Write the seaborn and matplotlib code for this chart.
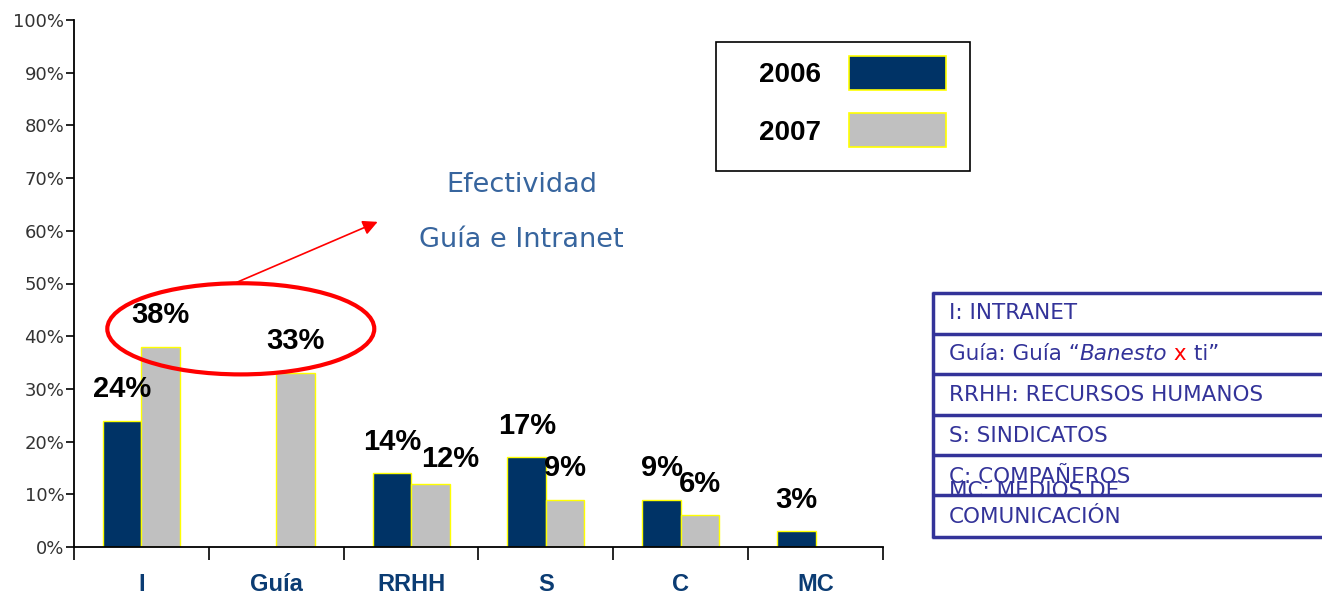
import numpy as np
import pandas as pd
import matplotlib.pyplot as plt
import seaborn as sns
from matplotlib.patches import Patch, Ellipse, Rectangle
from matplotlib.lines import Line2D
from matplotlib.ticker import FuncFormatter, FixedLocator

# data
categories = ["I", "Guía", "RRHH", "S", "C", "MC"]
years = ["2006", "2007"]
values_2006 = [24, None, 14, 17, 9, 3]
values_2007 = [38, 33, 12, 9, 6, None]
definitions = [
    "I: INTRANET",
    None,  # Guía line is drawn in pieces (italic / red x)
    "RRHH: RECURSOS HUMANOS",
    "S: SINDICATOS",
    "C: COMPAÑEROS",
]

colors = {"2006": "#003366", "2007": "#C0C0C0"}
navy = "#333399"

rows = []
for cat, v6, v7 in zip(categories, values_2006, values_2007):
    rows.append({"cat": cat, "year": "2006", "val": v6})
    rows.append({"cat": cat, "year": "2007", "val": v7})
df = pd.DataFrame(rows).dropna()

sns.set_style("white")
plt.rcParams["font.family"] = ["DejaVu Sans"]

fig = plt.figure(figsize=(13.22, 5.95), dpi=100)
ax = fig.add_axes([74 / 1322, 48 / 595, (883 - 74) / 1322, (547 - 20) / 595])

sns.barplot(data=df, x="cat", y="val", hue="year", order=categories,
            hue_order=years, palette=colors, width=0.57, edgecolor="#FFFF00",
            linewidth=1.0, legend=False, saturation=1, ax=ax)

ax.set_xlim(-0.5, 5.5)
ax.set_ylim(0, 100)
ax.set_yticks(np.arange(0, 101, 10))
ax.yaxis.set_major_formatter(FuncFormatter(lambda v, p: f"{v:.0f}%"))
ax.tick_params(axis="y", left=True, length=6, width=1.2, pad=1,
               labelsize=13, labelcolor="#333333", color="black")
ax.set_xticks(range(len(categories)))
ax.set_xticklabels(categories, fontfamily="Liberation Sans", fontweight="bold",
                   fontsize=17, color="#0B3C73")
ax.tick_params(axis="x", which="major", length=0, pad=19)
ax.xaxis.set_minor_locator(FixedLocator(np.arange(-0.5, 6, 1)))
ax.tick_params(axis="x", which="minor", bottom=True, length=9, width=1.2,
               color="black")
ax.set_xlabel("")
ax.set_ylabel("")
for side in ["top", "right"]:
    ax.spines[side].set_visible(False)
for side in ["left", "bottom"]:
    ax.spines[side].set_color("black")
    ax.spines[side].set_linewidth(1.3)

# value labels above bars
for bar in ax.patches:
    h = bar.get_height()
    if not np.isfinite(h) or h <= 0:
        continue
    xc = bar.get_x() + bar.get_width() / 2
    dy = 6
    dx = 0
    if abs(h - 12) < 0.01:
        dx, dy = 0.15, 4.7
    ax.text(xc + dx, h + dy, f"{h:.0f}%", ha="center", va="center",
            fontfamily="Liberation Sans", fontweight="bold", fontsize=21,
            color="black", clip_on=False)

# highlight ellipse and arrow
ax.add_patch(Ellipse((0.737, 41.4), 1.98, 17.3, fill=False, edgecolor="#FF0000",
                     linewidth=3, clip_on=False, zorder=5))
ax.annotate("", xy=(1.752, 61.7), xytext=(0.678, 49.9),
            arrowprops=dict(arrowstyle="-|>", color="#FF0000", lw=1.2,
                            mutation_scale=22, shrinkA=0, shrinkB=0),
            annotation_clip=False)

fig.text(522 / 1322, 1 - 185 / 595, "Efectividad", ha="center", va="center",
         fontsize=19.5, color="#37659E")
fig.text(521 / 1322, 1 - 240 / 595, "Guía e Intranet", ha="center", va="center",
         fontsize=19.5, color="#37659E")

# legend box
handles = [Patch(facecolor=colors[y], edgecolor="#FFFF00", linewidth=1.2) for y in years]
fig.add_artist(Rectangle((716 / 1322, 1 - 171 / 595), (970 - 716) / 1322,
                         (171 - 42) / 595, transform=fig.transFigure, fill=False,
                         edgecolor="black", linewidth=1.2))
fig.legend(handles, years, loc="upper right",
           bbox_to_anchor=(946 / 1322, 1 - 56 / 595), frameon=False,
           markerfirst=False, handlelength=3.5, handleheight=1.5,
           handletextpad=1.0, labelspacing=0.85, borderpad=0, borderaxespad=0,
           labelcolor="black",
           prop={"family": "Liberation Sans", "weight": "bold", "size": 20})

# definitions table on the right
row_lines = [293, 334, 374, 415, 455, 495, 537]
for y in row_lines:
    fig.add_artist(Line2D([932 / 1322, 1.0], [1 - y / 595, 1 - y / 595],
                          transform=fig.transFigure, color=navy, linewidth=2.5,
                          solid_capstyle="butt"))
fig.add_artist(Line2D([933 / 1322, 933 / 1322], [1 - 292 / 595, 1 - 538 / 595],
                      transform=fig.transFigure, color=navy, linewidth=2.5,
                      solid_capstyle="butt"))

fs_def = 15.5
text_y = [313, 354, 395, 436, 477]
tx = 949 / 1322
for txt, y in zip(definitions, text_y):
    if txt is None:
        continue
    fig.text(tx, 1 - y / 595, txt, ha="left", va="center", fontsize=fs_def,
             color=navy)
fig.text(tx, 1 - 491 / 595, "MC: MEDIOS DE", ha="left", va="center",
         fontsize=fs_def, color=navy)
fig.text(tx, 1 - 517 / 595, "COMUNICACIÓN", ha="left", va="center",
         fontsize=fs_def, color=navy)

# Guía line with italic and red x
renderer = fig.canvas.get_renderer()
pieces = [("Guía: Guía “", "normal", navy), ("Banesto", "italic", navy),
          (" x", "normal", "#FF0000"), (" ti”", "normal", navy)]
xpix = 949
for s, style, col in pieces:
    t = fig.text(xpix / 1322, 1 - 354 / 595, s, ha="left", va="center",
                 fontsize=fs_def, color=col, fontstyle=style)
    bb = t.get_window_extent(renderer)
    xpix = bb.x1

fig.savefig("out.png", dpi=100)
